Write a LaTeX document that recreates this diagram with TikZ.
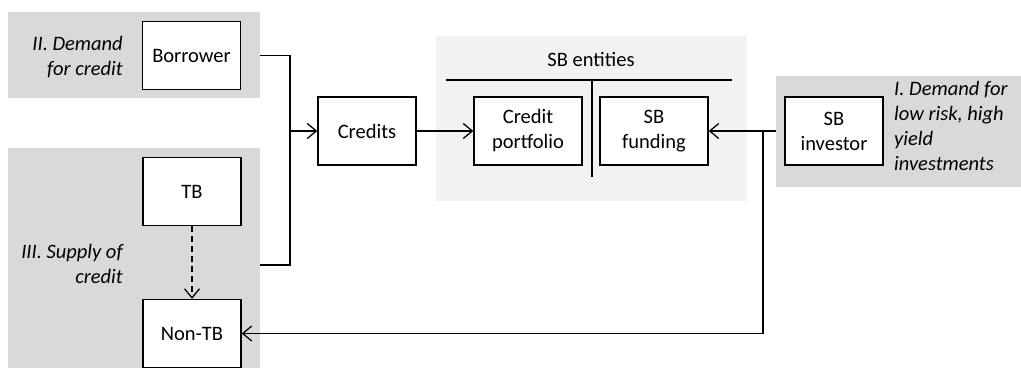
\documentclass[tikz,border=0pt]{standalone}
\usepackage{fontspec}
\setmainfont{Carlito}
\usetikzlibrary{arrows.meta}
\definecolor{regiongray}{HTML}{D9D9D9}
\definecolor{entitygray}{HTML}{F2F2F2}
\begin{document}
\begin{tikzpicture}[x=1pt,y=-1pt,font=\fontsize{20.5}{25}\selectfont,
      >={Straight Barb[length=9pt,width=15pt,line width=1.3pt]},
      box/.style={draw,line width=1.4pt,fill=white,minimum width=98pt,minimum height=68pt,inner sep=0pt,align=center},
      widebox/.style={box,minimum width=108pt},
      region/.style={fill=regiongray,inner sep=0pt},
      label/.style={font=\fontsize{20.5}{25}\selectfont\itshape,inner sep=0pt},
      link/.style={line width=1.3pt}]
         \useasboundingbox (0,0) rectangle (1021,377);
         \node[region,minimum width=252pt,minimum height=86pt] (demand) at (134,55) {};
         \node[region,minimum width=252pt,minimum height=220pt] (supply) at (134,258) {};
         \node[region,minimum width=245pt,minimum height=111pt] (invest) at (898.5,131.5) {};
         \node[fill=entitygray,inner sep=0pt,minimum width=311pt,minimum height=165pt] (entities) at (591.5,118.5) {};
         \node[label,anchor=east,align=right] (demandlabel) at (123,57) {II. Demand\\for credit};
         \node[label,anchor=east,align=right] (supplylabel) at (123,264) {III. Supply of\\credit};
         \node[label,anchor=west,align=left] (investlabel) at (894,126) {I. Demand for\\low risk, high\\yield\\investments};
         \node[box] (borrower) at (191.5,55.5) {Borrower};
         \node[box] (tb) at (192,191.5) {TB};
         \node[box] (nontb) at (192,333.5) {Non-TB};
         \node[box] (credits) at (367,131) {Credits};
         \node[widebox] (portfolio) at (528,131) {Credit\\portfolio};
         \node[widebox] (funding) at (654,131) {SB\\funding};
         \node[box] (investor) at (834,131) {SB\\investor};
         \node[inner sep=0pt] (entitieslabel) at (591,59) {SB entities};
         \draw[link] (446,80) -- (732,80);
         \draw[link] (592,80) -- (592,177);
         \coordinate (join) at (290,131);
         \coordinate (supplyout) at (260,265);
         \coordinate (split) at (763,131);
         \draw[link] (demand.east |- borrower) -| (join);
         \draw[link] (supplyout) -| (join);
         \draw[link,->] (join) -- (credits);
         \draw[link,->] (credits) -- (portfolio);
         \draw[link,->] (invest.west |- investor) -- (funding);
         \draw[link,->] (split) |- (nontb);
         \draw[link,->,dash pattern=on 6pt off 4pt] (tb) -- (nontb);
      \end{tikzpicture}
\end{document}
